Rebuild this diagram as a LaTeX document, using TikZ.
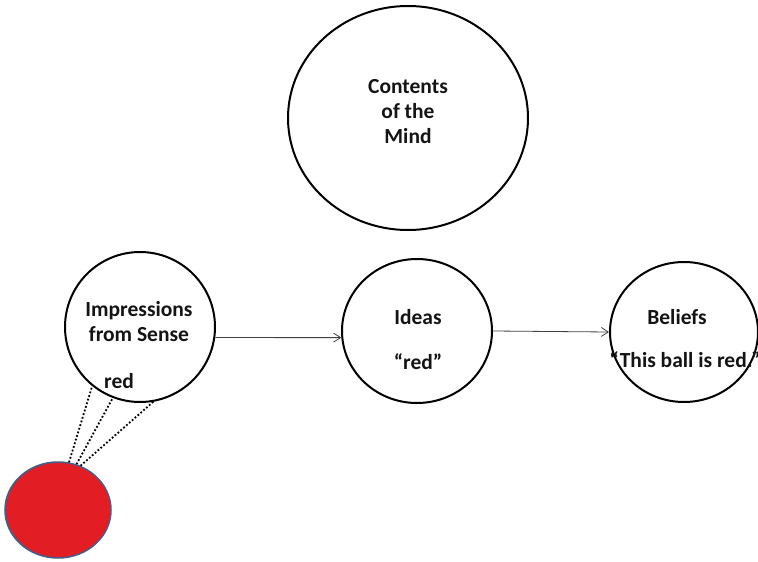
\documentclass[tikz,border=0pt]{standalone}
\usepackage{fontspec}
\setmainfont{Carlito}
\usetikzlibrary{arrows.meta,shapes.geometric}
\definecolor{ballred}{RGB}{226,30,36}
\definecolor{ballrim}{RGB}{62,96,140}

\begin{document}
\begin{tikzpicture}[x=1pt,y=-1pt,>={Straight Barb[length=7pt,width=9pt]},every node/.style={font=\fontsize{21.5}{25}\selectfont\bfseries,text=black!92},orb/.style={draw,ellipse,line width=2pt,inner sep=0pt},txt/.style={align=center,inner sep=1pt},link/.style={->,line width=0.8pt,draw=black!75},ray/.style={dotted,line width=1.8pt}]
\useasboundingbox (0,0) rectangle (758,562);
\node[orb,minimum width=240pt,minimum height=224pt] (mind) at (408,118) {};
\node[orb,minimum width=150pt,minimum height=150pt] (imp) at (140,327) {};
\node[orb,minimum width=150pt,minimum height=144pt] (ideas) at (417,331) {};
\node[orb,minimum width=148pt,minimum height=140pt] (beliefs) at (684,332) {};
\node[draw=ballrim,fill=ballred,ellipse,line width=1.5pt,inner sep=0pt,minimum width=106pt,minimum height=96pt] (ball) at (58,510) {};
% texts
\node[txt] (mindtxt) at (408,112) {Contents\\of the\\Mind};
\node[txt] (imptxt) at (139,322) {Impressions\\from Sense};
\node[txt] (impred) at (119,381) {red};
\node[txt] (ideastxt) at (418,317) {Ideas};
\node[txt] (ideasred) at (418,362) {“red”};
\node[txt] (beliefstxt) at (677,317) {Beliefs};
\node[txt] (beliefsred) at (685,360) {“This ball is red.”};
% connectors
\draw[link] (imp.-8) -- (ideas.185);
\draw[link] (ideas.east) -- (beliefs.west);
\draw[ray] (ball.77) -- (imp.-129);
\draw[ray] (ball.68) -- (imp.-111);
\draw[ray] (ball.63) -- (imp.-80);
\end{tikzpicture}
\end{document}
